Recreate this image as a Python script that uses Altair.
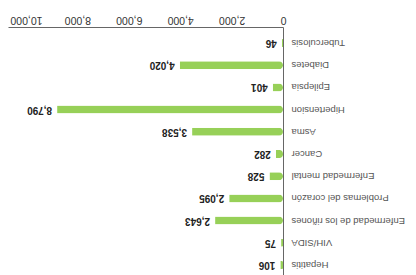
import altair as alt
import pandas as pd

categories = ["Tuberculosis", "Diabetes", "Epilepsia", "Hipertension", "Asma", "Cancer",
              "Enfermedad mental", "Problemas del corazón", "Enfermedad de los riñones",
              "VIH/SIDA", "Hepatitis"]
values = [46, 4020, 401, 8790, 3538, 282, 528, 2095, 2643, 75, 106]
tick_values = [0, 2000, 4000, 6000, 8000, 10000]

df = pd.DataFrame({"cat": categories, "value": values})

FONT = "Liberation Sans"

x_enc = alt.X(
    "value:Q",
    scale=alt.Scale(domain=[0, 10700], reverse=True, nice=False),
    axis=alt.Axis(orient="top", values=tick_values, labelExpr="format(datum.value, ',')",
                  labelAngle=180, labelBaseline="top", labelAlign="center", ticks=False,
                  grid=False, title=None, labelPadding=3, domainColor="#666666",
                  labelFontSize=10.5, labelColor="#333333", labelFont=FONT),
)
y_enc = alt.Y(
    "cat:N", sort=categories,
    scale=alt.Scale(paddingInner=0.1, paddingOuter=0.27),
    axis=alt.Axis(orient="right", labelAngle=180, labelAlign="right", labelBaseline="middle",
                  ticks=False, grid=False, title=None, labelPadding=8, domainColor="#666666",
                  labelFontSize=9.5, labelColor="#555555", labelFont=FONT),
)

base = alt.Chart(df)
bars = base.mark_bar(color="#97d058", size=8, cornerRadiusEnd=4).encode(x=x_enc, y=y_enc)
labels = base.mark_text(angle=180, align="left", baseline="middle", dx=5, fontWeight="bold",
                        fontSize=10, color="#222222", font=FONT).encode(
    x=x_enc, y=y_enc,
    text=alt.Text("value:Q", format=","))

chart = (bars + labels).properties(
    width=275, height=254,
    padding={"left": 0, "top": 5, "right": 0, "bottom": 0},
    background="white",
).configure_view(stroke=None)

chart.save("out.html", embed_options={"renderer": "svg", "actions": False})
